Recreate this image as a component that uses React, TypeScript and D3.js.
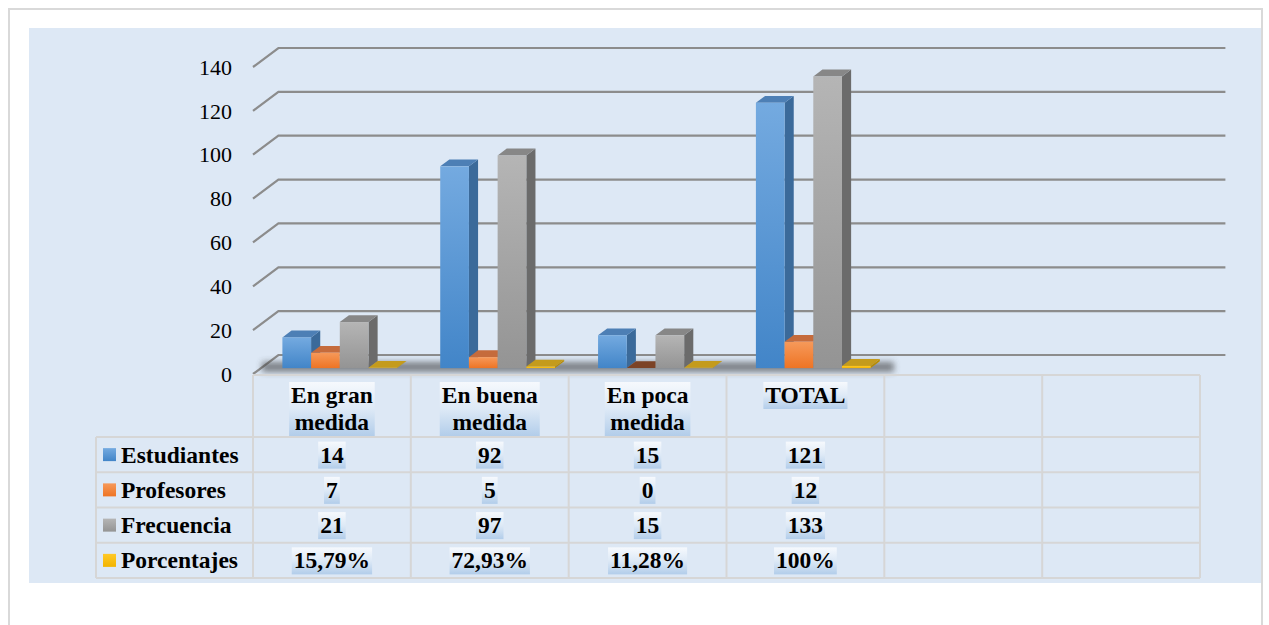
import React from 'react';
import * as d3 from 'd3';

const categories: string[][] = [["En gran", "medida"], ["En buena", "medida"], ["En poca", "medida"], ["TOTAL"], [], []];
const seriesNames = ["Estudiantes", "Profesores", "Frecuencia", "Porcentajes"];
const estudiantes = [14, 92, 15, 121];
const profesores = [7, 5, 0, 12];
const frecuencia = [21, 97, 15, 133];
const porcentajes = [0.1579, 0.7293, 0.1128, 1];
const estudiantesLabels = ["14", "92", "15", "121"];
const profesoresLabels = ["7", "5", "0", "12"];
const frecuenciaLabels = ["21", "97", "15", "133"];
const porcentajesLabels = ["15,79%", "72,93%", "11,28%", "100%"];
const yTicks = [0, 20, 40, 60, 80, 100, 120, 140];

const seriesValues = [estudiantes, profesores, frecuencia, porcentajes];
const seriesLabels = [estudiantesLabels, profesoresLabels, frecuenciaLabels, porcentajesLabels];

const styles = [
  { front: ["#74aae0", "#4285c8"], side: "#3b6a9a", top: "#4d7fb5" },
  { front: ["#f6995a", "#ee7424"], side: "#b05a22", top: "#c56b3c" },
  { front: ["#b5b5b5", "#949494"], side: "#6b6b6b", top: "#878787" },
  { front: ["#ffc928", "#f2b400"], side: "#b88c00", top: "#c49b1c" },
];

const SERIF = 'Liberation Serif, Times New Roman, DejaVu Serif, serif';
const BOLD_SIZE = 23.5;

let measureCtx: CanvasRenderingContext2D | null = null;
function textWidth(t: string, font: string) {
  if (!measureCtx) measureCtx = document.createElement('canvas').getContext('2d');
  if (!measureCtx) return t.length * 12;
  measureCtx.font = font;
  return measureCtx.measureText(t).width;
}

export default function App() {
  const W = 1269, H = 625;
  const x = d3.scaleBand<number>().domain(d3.range(categories.length)).range([253, 1200]);
  const xs = d3.scaleBand<string>().domain(seriesNames).range([0, x.bandwidth()]).paddingInner(0).paddingOuter(0.75);
  const y = d3.scaleLinear().domain([0, 140]).range([374, 67]);
  const D = { x: 25.4, y: -19 };
  const off = { x: D.x * 0.31, y: D.y * 0.31 };
  const dd = { x: D.x * 0.36, y: D.y * 0.36 };
  const rows = d3.scaleBand<string>().domain(seriesNames).range([437, 578]);
  const tableLeft = 96, tableTop = 375;
  const boldFont = `bold ${BOLD_SIZE}px "Liberation Serif", serif`;
  const boldStyle: React.CSSProperties = { fontFamily: SERIF, fontWeight: 'bold', fontSize: `${BOLD_SIZE}px` };
  const axisStyle: React.CSSProperties = { fontFamily: SERIF, fontSize: '22px' };

  const bars: JSX.Element[] = [];
  categories.forEach((_, ci) => {
    seriesNames.forEach((s, si) => {
      const v = seriesValues[si][ci];
      if (v === undefined) return;
      const st = styles[si];
      const fx = (x(ci) as number) + (xs(s) as number) + off.x;
      const w = xs.bandwidth();
      const fy0 = y(0) + off.y;
      const fy1 = y(v) + off.y;
      const sidePts = [[fx + w, fy1], [fx + w + dd.x, fy1 + dd.y], [fx + w + dd.x, fy0 + dd.y], [fx + w, fy0]];
      const topPts = [[fx, fy1], [fx + w, fy1], [fx + w + dd.x, fy1 + dd.y], [fx + dd.x, fy1 + dd.y]];
      const topColor = v === 0 ? (d3.color(st.top) as d3.RGBColor).darker(1.3).formatHex() : st.top;
      bars.push(
        <g key={`b${ci}-${si}`}>
          <polygon points={sidePts.map(p => p.join(',')).join(' ')} fill={st.side} />
          <polygon points={topPts.map(p => p.join(',')).join(' ')} fill={topColor} />
          {fy0 - fy1 > 0 && <rect x={fx} y={fy1} width={w} height={fy0 - fy1} fill={`url(#g${si})`} />}
        </g>
      );
    });
  });

  const highlight = (key: string, cx: number, lines: string[], baseline: number, lineH: number) => {
    if (!lines.length) return null;
    const wmax = Math.max(...lines.map(l => textWidth(l, boldFont)));
    const top = baseline - 21;
    const bottom = baseline + (lines.length - 1) * lineH + 6;
    return (
      <g key={key}>
        <rect x={cx - wmax / 2 - 2} y={top} width={wmax + 4} height={bottom - top} fill="url(#hl)" />
        {lines.map((l, i) => (
          <text key={i} x={cx} y={baseline + i * lineH} textAnchor="middle" style={boldStyle} fill="#000">{l}</text>
        ))}
      </g>
    );
  };

  const colEdges = [...x.domain().map(i => x(i) as number), 1200];
  const rowEdges = [...seriesNames.map(s => rows(s) as number), 578];
  const gridColor = '#8c8c8c';
  const borderColor = '#d6d6d6';

  return (
    <svg width={W} height={H} style={{ position: 'absolute', left: 0, top: 0 }}>
      <defs>
        {styles.map((st, i) => (
          <linearGradient key={i} id={`g${i}`} x1="0" y1="0" x2="0" y2="1">
            <stop offset="0" stopColor={st.front[0]} />
            <stop offset="1" stopColor={st.front[1]} />
          </linearGradient>
        ))}
        <linearGradient id="hl" x1="0" y1="0" x2="0" y2="1">
          <stop offset="0" stopColor="#f6f9fd" />
          <stop offset="0.5" stopColor="#dde9f6" />
          <stop offset="1" stopColor="#b2cdea" />
        </linearGradient>
        <filter id="blur" x="-10%" y="-100%" width="120%" height="300%">
          <feGaussianBlur stdDeviation="3" />
        </filter>
      </defs>
      <rect x={0} y={0} width={W} height={H} fill="#ffffff" />
      <rect x={9} y={9} width={1253} height={640} fill="#ffffff" stroke="#d9d9d9" strokeWidth={2} />
      <rect x={29} y={28} width={1232} height={555} fill="#dde8f5" />

      {yTicks.map(t => (
        <polyline key={`gl${t}`}
          points={`${x.range()[0]},${y(t)} ${x.range()[0] + D.x},${y(t) + D.y} ${x.range()[1] + D.x},${y(t) + D.y}`}
          fill="none" stroke={gridColor} strokeWidth={2.2} />
      ))}

      {yTicks.map(t => (
        <text key={`yl${t}`} x={232} y={y(t)} dy="0.35em" textAnchor="end" style={axisStyle} fill="#000">{t}</text>
      ))}

      <rect x={262} y={362} width={632} height={10} fill="#3a3a3a" opacity={0.6} filter="url(#blur)" />

      {bars}

      <line x1={253} x2={1200} y1={tableTop} y2={tableTop} stroke={borderColor} strokeWidth={2} />
      {rowEdges.map((ry, i) => (
        <line key={`hr${i}`} x1={tableLeft} x2={1200} y1={ry} y2={ry} stroke={borderColor} strokeWidth={2} />
      ))}
      <line x1={tableLeft} x2={tableLeft} y1={437} y2={578} stroke={borderColor} strokeWidth={2} />
      {colEdges.map((cx, i) => (
        <line key={`vc${i}`} x1={cx} x2={cx} y1={tableTop} y2={578} stroke={borderColor} strokeWidth={2} />
      ))}

      {categories.map((lines, ci) =>
        highlight(`h${ci}`, (x(ci) as number) + x.bandwidth() / 2, lines, 403, 27)
      )}

      {seriesNames.map((s, si) => {
        const c = (rows(s) as number) + rows.bandwidth() / 2;
        return (
          <g key={`row${si}`}>
            <rect x={103} y={c - 6.5} width={13} height={13} fill={`url(#g${si})`} />
            <text x={121} y={c + 8} style={boldStyle} fill="#000">{s}</text>
            {seriesLabels[si].map((lab, ci) =>
              highlight(`v${si}-${ci}`, (x(ci) as number) + x.bandwidth() / 2, [lab], c + 8, 27)
            )}
          </g>
        );
      })}
    </svg>
  );
}
